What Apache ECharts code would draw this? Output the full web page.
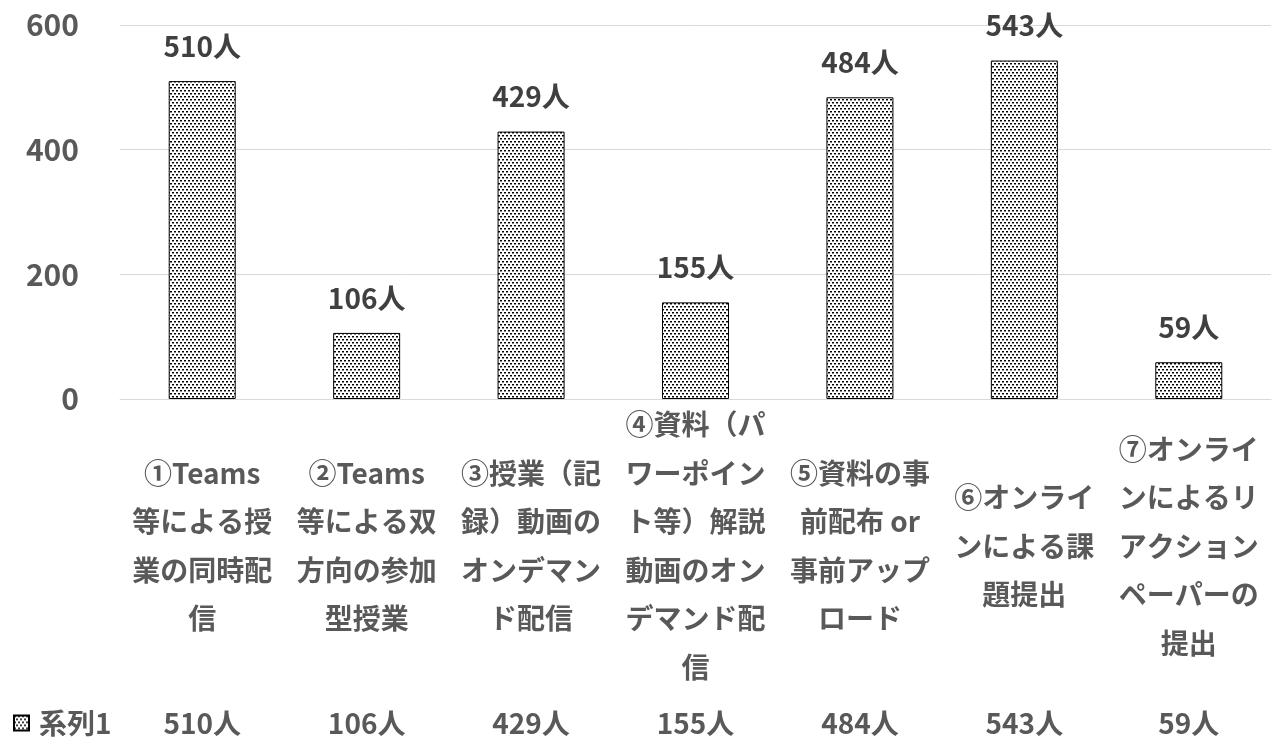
<!DOCTYPE html>
<html>
<head>
<meta charset="utf-8">
<script src="https://cdn.jsdelivr.net/npm/echarts@6/dist/echarts.min.js"></script>
<style>
  html, body { margin: 0; padding: 0; background: #fff; }
  #chart { width: 1274px; height: 747px; }
</style>
</head>
<body>
<div id="chart"></div>
<script>
var categories = [
  '①Teams\n等による授\n業の同時配\n信',
  '②Teams\n等による双\n方向の参加\n型授業',
  '③授業（記\n録）動画の\nオンデマン\nド配信',
  '④資料（パ\nワーポイン\nト等）解説\n動画のオン\nデマンド配\n信',
  '⑤資料の事\n前配布 or\n事前アップ\nロード',
  '⑥オンライ\nンによる課\n題提出',
  '⑦オンライ\nンによるリ\nアクション\nペーパーの\n提出'
];
var values = [510, 106, 429, 155, 484, 543, 59];
var seriesName = '系列1';
var unit = '人';

var font = '"Noto Sans CJK JP", "Noto Sans", sans-serif';

// dotted fill like the original
function makeDots() {
  var c = document.createElement('canvas');
  c.width = 4;
  c.height = 6;
  var ctx = c.getContext('2d');
  ctx.fillStyle = '#fff';
  ctx.fillRect(0, 0, 4, 6);
  ctx.fillStyle = '#000';
  ctx.fillRect(0, 0, 2, 1);
  ctx.fillRect(2, 3, 2, 1);
  ctx.fillStyle = '#888';
  ctx.fillRect(0, 1, 2, 1);
  ctx.fillRect(2, 4, 2, 1);
  return c;
}
var dots = { image: makeDots(), repeat: 'repeat' };

var chartDom = document.getElementById('chart');
var myChart = echarts.init(chartDom);
var option;

option = {
  animation: false,
  legend: {
    left: 13,
    top: 709,
    padding: 0,
    icon: 'rect',
    itemWidth: 15,
    itemHeight: 15,
    data: [seriesName],
    textStyle: {
      fontFamily: font,
      fontSize: 28,
      fontWeight: 'bold',
      color: '#595959',
      padding: [0, 0, 0, 5]
    }
  },
  grid: {
    left: 120,
    right: 3,
    top: 25,
    bottom: 348
  },
  xAxis: [
    {
      type: 'category',
      data: categories,
      axisLine: { lineStyle: { color: '#d9d9d9', width: 1 } },
      axisTick: { show: false },
      axisLabel: {
        interval: 0,
        margin: 147,
        verticalAlign: 'middle',
        lineHeight: 48.5,
        fontFamily: font,
        fontSize: 28,
        fontWeight: 'bold',
        color: '#595959'
      }
    },
    {
      type: 'category',
      position: 'bottom',
      data: values.map(function (v) { return v + unit; }),
      axisLine: { show: false },
      axisTick: { show: false },
      axisLabel: {
        interval: 0,
        margin: 324,
        verticalAlign: 'middle',
        fontFamily: font,
        fontSize: 28,
        fontWeight: 'bold',
        color: '#595959'
      }
    }
  ],
  yAxis: {
    type: 'value',
    min: 0,
    max: 600,
    interval: 200,
    axisLine: { show: false },
    axisTick: { show: false },
    splitLine: { lineStyle: { color: '#d9d9d9', width: 1 } },
    axisLabel: {
      margin: 41,
      fontFamily: font,
      fontSize: 30,
      fontWeight: 'bold',
      color: '#595959'
    }
  },
  series: [
    {
      name: seriesName,
      type: 'bar',
      barWidth: 67,
      data: values,
      itemStyle: {
        color: dots,
        borderColor: '#000',
        borderWidth: 1
      },
      label: {
        show: true,
        position: 'top',
        distance: 21,
        formatter: function (p) { return p.value + unit; },
        fontFamily: font,
        fontSize: 28,
        fontWeight: 'bold',
        color: '#404040'
      }
    }
  ]
};

option && myChart.setOption(option);
</script>
</body>
</html>
